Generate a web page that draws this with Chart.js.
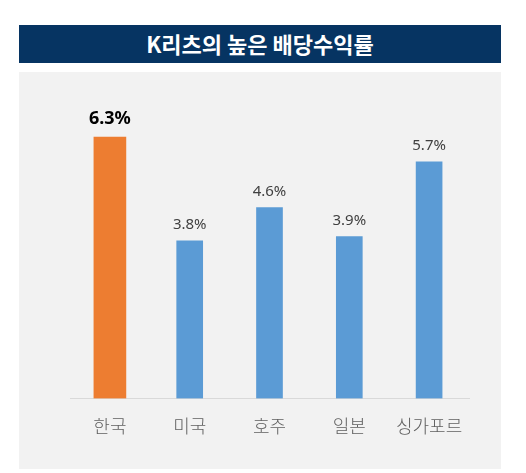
<!DOCTYPE html>
<html>
<head>
<meta charset="utf-8">
<script src="https://cdn.jsdelivr.net/npm/chart.js@4/dist/chart.umd.min.js"></script>
<style>
  html, body { margin: 0; padding: 0; background: #ffffff; }
  body { width: 526px; height: 473px; position: relative; overflow: hidden; }
  #title {
    position: absolute; left: 19px; top: 25px; width: 482px; height: 38px;
    background: #063462; color: #ffffff;
    font: bold 22px "Noto Sans CJK KR", sans-serif;
    line-height: 37px; text-align: center;
  }
  #panel {
    position: absolute; left: 19px; top: 72px; width: 482px; height: 397px;
    background: #f2f2f2;
  }
</style>
</head>
<body>
<div id="title">K리츠의 높은 배당수익률</div>
<div id="panel"><canvas id="grafica" width="482" height="397"></canvas></div>
<script>
var categorias = ['한국', '미국', '호주', '일본', '싱가포르'];
var rendimientos = [6.3, 3.8, 4.6, 3.9, 5.7];
var destacado = 0; // Korea is highlighted

// split into highlighted / normal bars
var datosDestacado = [];
var datosNormal = [];
for (var i = 0; i < rendimientos.length; i++) {
  datosDestacado.push(i === destacado ? rendimientos[i] : null);
  datosNormal.push(i === destacado ? null : rendimientos[i]);
}

var etiquetas = {
  id: 'etiquetas',
  afterDatasetsDraw: function(chart) {
    var ctx = chart.ctx;
    ctx.save();
    ctx.textAlign = 'center';
    ctx.textBaseline = 'alphabetic';
    chart.data.datasets.forEach(function(ds, d) {
      var meta = chart.getDatasetMeta(d);
      meta.data.forEach(function(bar, i) {
        if (ds.data[i] === null) return;
        if (d === 0) {
          ctx.font = 'bold 18px "Noto Sans", sans-serif';
          ctx.fillStyle = '#000000';
          ctx.fillText(ds.data[i].toFixed(1) + '%', bar.x, bar.y - 13);
        } else {
          ctx.font = '15px "Noto Sans", sans-serif';
          ctx.fillStyle = '#404040';
          ctx.fillText(ds.data[i].toFixed(1) + '%', bar.x, bar.y - 12);
        }
      });
    });
    ctx.restore();
  }
};

var ctx = document.getElementById('grafica').getContext('2d');
var chart = new Chart(ctx, {
  type: 'bar',
  data: {
    labels: categorias,
    datasets: [{
      data: datosDestacado,
      backgroundColor: '#ed7d31',
      barThickness: 32,
      grouped: false
    }, {
      data: datosNormal,
      backgroundColor: '#5b9bd5',
      barThickness: 26,
      grouped: false
    }]
  },
  options: {
    responsive: false,
    animation: false,
    layout: { padding: { left: 51, right: 32, top: 36, bottom: 15 } },
    plugins: {
      legend: { display: false },
      tooltip: { enabled: false }
    },
    scales: {
      x: {
        grid: { display: false, drawTicks: false },
        border: { display: true, color: '#d9d9d9', width: 1 },
        ticks: {
          padding: 17,
          color: '#5f5f5f',
          font: { family: '"Noto Sans CJK KR", sans-serif', size: 18, weight: '300' }
        }
      },
      y: {
        display: false,
        min: 0,
        max: 7
      }
    }
  },
  plugins: [etiquetas]
});
</script>
</body>
</html>
